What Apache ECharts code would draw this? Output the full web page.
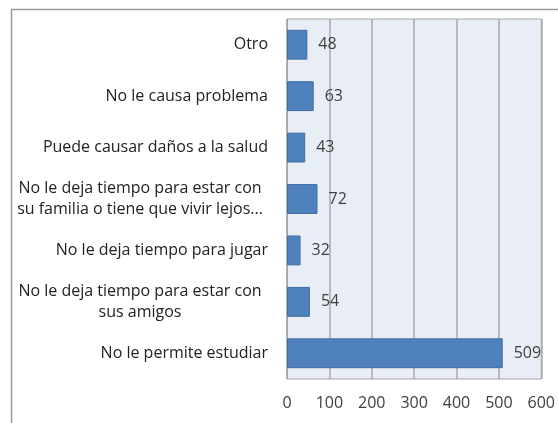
<!DOCTYPE html>
<html>
<head>
<meta charset="utf-8">
<script src="https://cdn.jsdelivr.net/npm/echarts@6/dist/echarts.min.js"></script>
<style>
html, body { margin: 0; padding: 0; background: #fff; }
#main { width: 558px; height: 423px; }
</style>
</head>
<body>
<div id="main"></div>
<script>
var categories = [
	'Otro',
	'No le causa problema',
	'Puede causar daños a la salud',
	'No le deja tiempo para estar con\nsu familia o tiene que vivir lejos...',
	'No le deja tiempo para jugar',
	'No le deja tiempo para estar con\nsus amigos',
	'No le permite estudiar'
];
var values = [48, 63, 43, 72, 32, 54, 509];
var tickMax = 600;
var tickStep = 100;

var myChart = echarts.init(document.getElementById('main'));
var option = {
	animation: false,
	textStyle: { fontFamily: 'Open Sans' },
	graphic: [{
		type: 'rect',
		shape: { x: 11.5, y: 9.5, width: 700, height: 500 },
		style: { fill: 'none', stroke: '#9a9a9a', lineWidth: 1.5 },
		silent: true
	}],
	grid: {
		left: 287, top: 19, width: 259, height: 360,
		show: true,
		backgroundColor: '#e9eef6',
		borderColor: '#a6a6a6',
		borderWidth: 1
	},
	xAxis: {
		type: 'value',
		min: 0, max: tickMax, interval: tickStep,
		axisLine: { show: false },
		axisTick: { show: false },
		splitLine: { lineStyle: { color: '#a9a9a9', width: 1.5 } },
		axisLabel: { color: '#404040', fontSize: 16, margin: 16 }
	},
	yAxis: {
		type: 'category',
		data: categories,
		inverse: true,
		axisLine: { lineStyle: { color: '#a6a6a6' } },
		axisTick: { show: false },
		axisLabel: {
			color: '#222', fontSize: 16, margin: 19, lineHeight: 21,
			formatter: function (v) {
				return v.indexOf('\n') >= 0 ? '{c|' + v.split('\n').join('}\n{c|') + '}' : v;
			},
			rich: { c: { width: 256, align: 'center', fontSize: 16, color: '#222', lineHeight: 21 } }
		}
	},
	series: [{
		type: 'bar',
		data: values,
		barCategoryGap: '42%',
		itemStyle: { color: '#4f81bd', borderColor: '#3d6da6', borderWidth: 1 },
		label: { show: true, position: 'right', distance: 11, color: '#404040', fontSize: 16 }
	}]
};
myChart.setOption(option);
</script>
</body>
</html>
